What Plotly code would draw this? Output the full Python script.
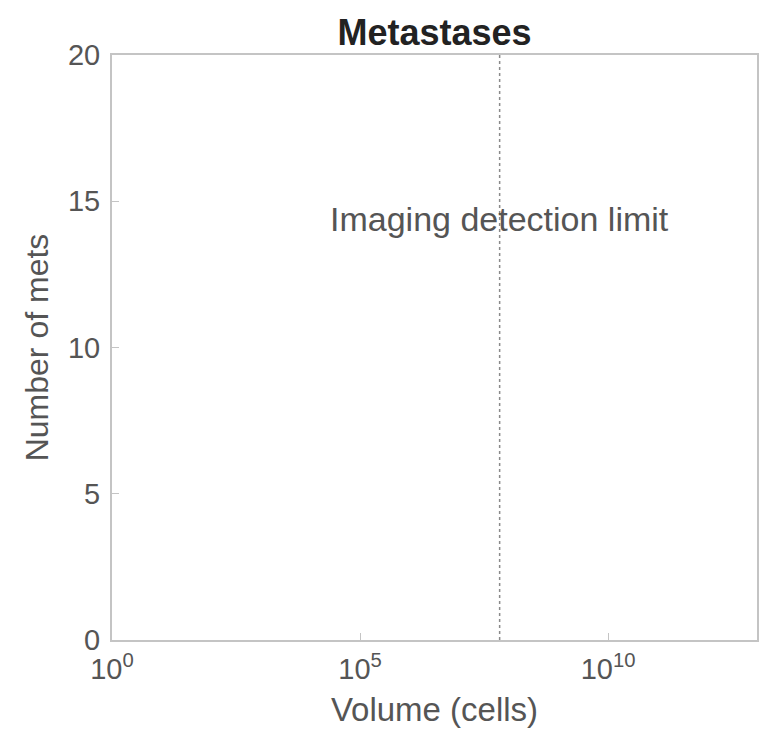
import math
import plotly.graph_objects as go

# Data
detection_limit = 6.5e7          # cells (imaging detection limit)
y_range = [0, 20]
x_range_log = [0, 13]
x_tick_vals = [1e0, 1e5, 1e10]
x_tick_text = ["10<sup>0</sup>", "10<sup>5</sup>", "10<sup>10</sup>"]
y_tick_vals = [0, 5, 10, 15, 20]
annotation_text = "Imaging detection limit"
annotation_y = 14.4

FONT = "Liberation Sans"
fig = go.Figure()
fig.add_trace(go.Scatter(
    x=[detection_limit, detection_limit], y=y_range,
    mode="lines", line=dict(color="#8a8a8a", width=1.5, dash="dot"),
    showlegend=False, hoverinfo="skip"))

fig.add_annotation(x=math.log10(detection_limit), y=annotation_y, xref="x", yref="y",
                   text=annotation_text, showarrow=False,
                   font=dict(size=34, color="#555555", family=FONT))

axis_common = dict(showline=True, linecolor="#c4c4c4", linewidth=2, mirror=True,
                   ticks="inside", tickcolor="#c4c4c4", ticklen=7, showgrid=False,
                   zeroline=False, automargin=False,
                   tickfont=dict(size=29, color="#555555", family=FONT))

fig.update_layout(
    width=778, height=749,
    paper_bgcolor="white", plot_bgcolor="white",
    margin=dict(l=104, r=29, t=47, b=117),
    title=dict(text="<b>Metastases</b>", x=0.5, xref="paper", xanchor="center",
               y=0.968, yanchor="middle",
               font=dict(size=36, color="#222222", family=FONT)),
    xaxis=dict(type="log", range=x_range_log, tickvals=x_tick_vals, ticktext=x_tick_text,
               ticklabelstandoff=2,
               title=dict(text="Volume (cells)", font=dict(size=33, color="#555555", family=FONT), standoff=14),
               **axis_common),
    yaxis=dict(range=y_range, tickvals=y_tick_vals, ticklabelstandoff=4,
               title=dict(text="Number of mets", font=dict(size=32, color="#555555", family=FONT), standoff=10),
               **axis_common),
)

fig.write_html("out.html")
